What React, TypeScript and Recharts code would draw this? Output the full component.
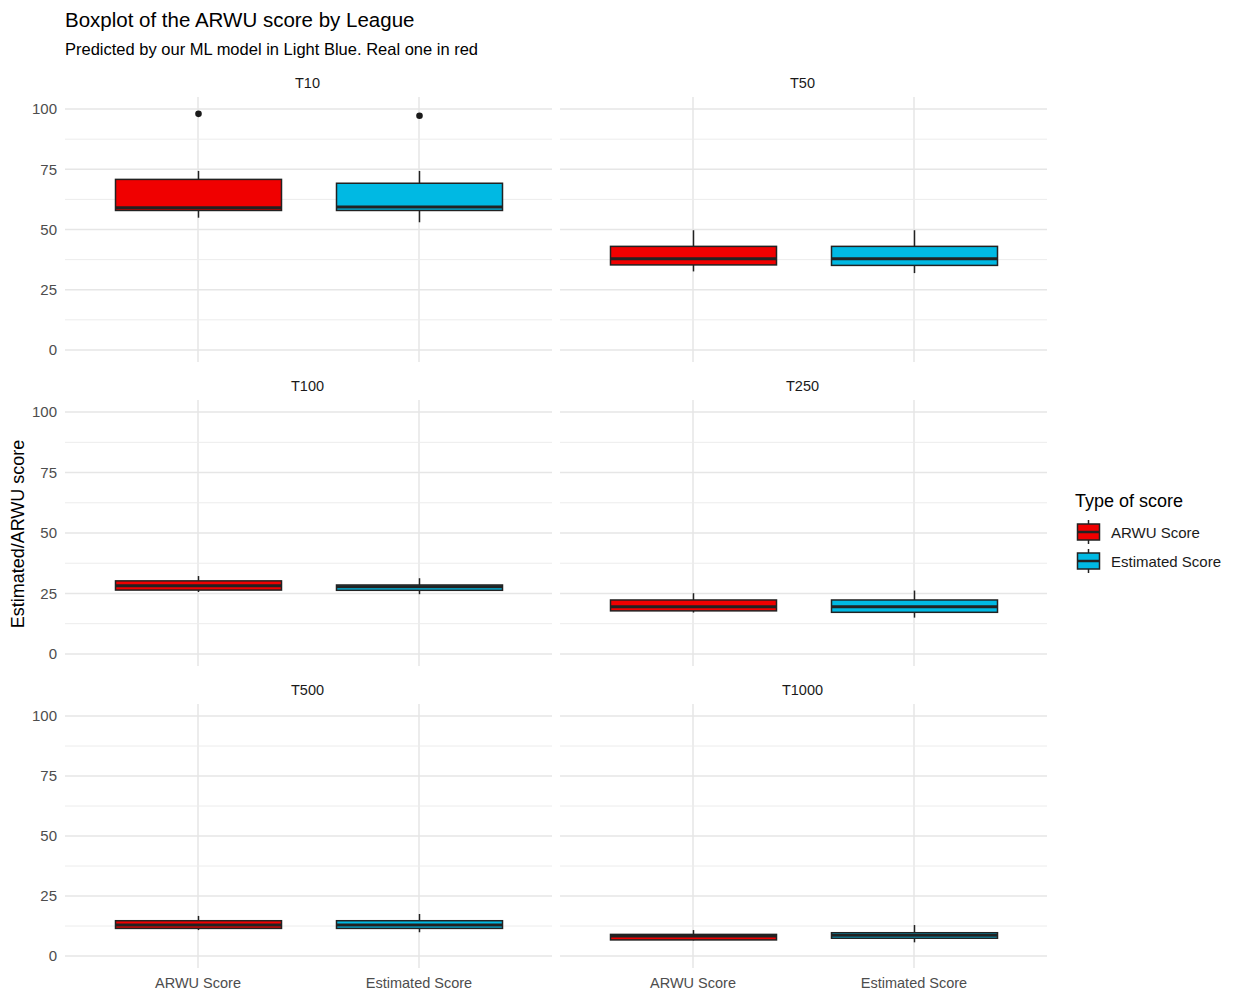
import { Bar, CartesianGrid, ComposedChart, XAxis, YAxis } from 'recharts';

// facets, in reading order (facet_wrap, 2 columns)
const leagues = ['T10', 'T50', 'T100', 'T250', 'T500', 'T1000'];
const scoreTypes = ['ARWU Score', 'Estimated Score'];

// [min whisker, q1, median, q3, max whisker] per league
const arwuStats = [
  [54.9, 57.9, 59.0, 70.8, 74.3],
  [32.6, 35.3, 37.9, 43.0, 49.7],
  [25.6, 26.4, 28.2, 30.2, 32.2],
  [17.1, 17.8, 19.5, 22.3, 25.1],
  [10.8, 11.5, 12.9, 14.7, 16.7],
  [6.5, 6.7, 8.3, 9.0, 10.8],
];
const estimatedStats = [
  [53.0, 57.9, 59.3, 69.2, 74.3],
  [31.9, 35.1, 37.9, 43.0, 49.7],
  [24.7, 26.3, 27.8, 28.5, 31.3],
  [15.0, 17.2, 19.5, 22.3, 26.2],
  [9.9, 11.5, 12.9, 14.7, 17.5],
  [5.7, 7.4, 8.6, 9.7, 12.9],
];
const arwuOutliers = [[98.0], [], [], [], [], []];
const estimatedOutliers = [[97.2], [], [], [], [], []];

const majorTicks = [0, 25, 50, 75, 100];
const minorTicks = [12.5, 37.5, 62.5, 87.5];

const FILLS: Record<string, string> = { 'ARWU Score': '#f00000', 'Estimated Score': '#00b9e3' };
const OUTLINE = '#222222';
const FONT = '"Liberation Sans", Arial, sans-serif';

const PLOT_W = 487;

function BoxShape(props: any) {
  const { x, y, width, height, payload } = props;
  const top = Math.min(y, y + height);
  const bottom = Math.max(y, y + height);
  const lo = payload.min;
  const hi = payload.max;
  // linear map taken off the bar the library placed from min..max
  const toY = (v: number) => bottom - ((v - lo) / (hi - lo)) * (bottom - top);
  const cx = x + width / 2;
  const boxTop = toY(payload.q3);
  const boxBot = toY(payload.q1);
  return (
    <g>
      <line x1={cx} x2={cx} y1={toY(hi)} y2={boxTop} stroke={OUTLINE} strokeWidth={1.5} />
      <line x1={cx} x2={cx} y1={boxBot} y2={toY(lo)} stroke={OUTLINE} strokeWidth={1.5} />
      <rect x={x} y={boxTop} width={width} height={boxBot - boxTop} fill={FILLS[payload.type]} stroke={OUTLINE} strokeWidth={1.5} />
      <line x1={x} x2={x + width} y1={toY(payload.median)} y2={toY(payload.median)} stroke={OUTLINE} strokeWidth={3} />
      {payload.outliers.map((o: number, i: number) => (
        <circle key={i} cx={cx} cy={toY(o)} r={3.3} fill="#1a1a1a" />
      ))}
    </g>
  );
}

interface PanelProps {
  idx: number;
  left: number;
  top: number;
  plotH: number;
  showY: boolean;
  showX: boolean;
}

function Panel({ idx, left, top, plotH, showY, showX }: PanelProps) {
  const data = scoreTypes.map((type, i) => {
    const s = i === 0 ? arwuStats[idx] : estimatedStats[idx];
    return {
      type,
      min: s[0],
      q1: s[1],
      median: s[2],
      q3: s[3],
      max: s[4],
      outliers: i === 0 ? arwuOutliers[idx] : estimatedOutliers[idx],
    };
  });
  const yW = showY ? 40 : 0;
  const xH = showX ? 30 : 0;
  return (
    <>
      <div
        style={{
          position: 'absolute',
          left: left - 1,
          top: top - 23,
          width: PLOT_W,
          textAlign: 'center',
          fontSize: 14.5,
          color: '#1a1a1a',
          lineHeight: '18px',
        }}
      >
        {leagues[idx]}
      </div>
      <div style={{ position: 'absolute', left: left - yW, top }}>
        <ComposedChart width={PLOT_W + yW} height={plotH + xH} data={data} margin={{ top: 0, right: 0, bottom: 0, left: 0 }}>
          <CartesianGrid stroke="#e6e6e6" strokeWidth={1.5} horizontalValues={majorTicks} syncWithTicks />
          <CartesianGrid stroke="#ececec" strokeWidth={1} vertical={false} horizontalValues={minorTicks} syncWithTicks />
          <XAxis
            dataKey="type"
            hide={!showX}
            height={xH}
            padding={{ left: 22.5, right: 22.5 }}
            tickLine={false}
            axisLine={false}
            tickMargin={4}
            tick={{ fontSize: 14.5, fill: '#4d4d4d', fontFamily: FONT }}
          />
          <YAxis
            type="number"
            domain={[-5, 105]}
            ticks={majorTicks}
            hide={!showY}
            width={yW}
            tickLine={false}
            axisLine={false}
            tick={{ fontSize: 15, fill: '#4d4d4d', fontFamily: FONT }}
          />
          <Bar dataKey={(d: any) => [d.min, d.max]} barSize={166} shape={<BoxShape />} isAnimationActive={false} />
        </ComposedChart>
      </div>
    </>
  );
}

const colLeft = [65, 560];
const rowTop = [97, 400, 704];
const rowH = [265, 266, 264];

export default function App() {
  return (
    <div
      style={{
        position: 'absolute',
        left: 0,
        top: 0,
        width: 1237,
        height: 996,
        background: '#fff',
        fontFamily: FONT,
        color: '#000',
      }}
    >
      <div style={{ position: 'absolute', left: 65, top: 7, fontSize: 20.5, lineHeight: '26px' }}>
        Boxplot of the ARWU score by League
      </div>
      <div style={{ position: 'absolute', left: 65, top: 38, fontSize: 16.5, lineHeight: '22px' }}>
        Predicted by our ML model in Light Blue. Real one in red
      </div>
      <div
        style={{
          position: 'absolute',
          left: 18,
          top: 534,
          fontSize: 18,
          whiteSpace: 'nowrap',
          transform: 'translate(-50%, -50%) rotate(-90deg)',
        }}
      >
        Estimated/ARWU score
      </div>

      {leagues.map((_, i) => {
        const r = Math.floor(i / 2);
        const c = i % 2;
        return (
          <Panel key={i} idx={i} left={colLeft[c]} top={rowTop[r]} plotH={rowH[r]} showY={c === 0} showX={r === 2} />
        );
      })}

      <div style={{ position: 'absolute', left: 1075, top: 489, fontSize: 18, lineHeight: '24px' }}>Type of score</div>
      {scoreTypes.map((t, i) => (
        <div key={t} style={{ position: 'absolute', left: 1076, top: 518 + i * 29, height: 28, display: 'flex', alignItems: 'center' }}>
          <svg width={26} height={28}>
            <line x1={12.5} x2={12.5} y1={2} y2={6} stroke={OUTLINE} strokeWidth={1.5} />
            <line x1={12.5} x2={12.5} y1={22} y2={26} stroke={OUTLINE} strokeWidth={1.5} />
            <rect x={1.5} y={6} width={22} height={16} fill={FILLS[t]} stroke={OUTLINE} strokeWidth={1.5} />
            <line x1={1.5} x2={23.5} y1={14} y2={14} stroke={OUTLINE} strokeWidth={2.5} />
          </svg>
          <span style={{ marginLeft: 9, fontSize: 15, color: '#1a1a1a' }}>{t}</span>
        </div>
      ))}
    </div>
  );
}
